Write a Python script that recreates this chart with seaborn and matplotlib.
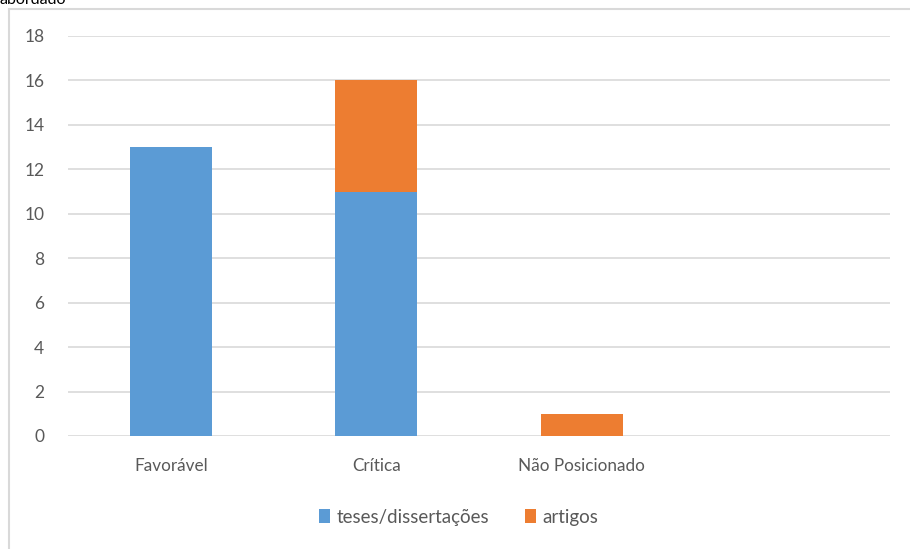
import numpy as np
import pandas as pd
import matplotlib
matplotlib.use('Agg')
import matplotlib.pyplot as plt
import seaborn as sns
from matplotlib.lines import Line2D

# -----------------------

categorias = ['Favorável', 'Crítica', 'Não Posicionado']
teses = [13, 11, 0]
artigos = [0, 5, 1]
yticks = [0, 2, 4, 6, 8, 10, 12, 14, 16, 18]

c_teses = '#5B9BD5'
c_artigos = '#ED7D31'
c_text = '#595959'
c_grid = '#D9D9D9'

# -----------------------

sns.set_style('white')
plt.rcParams['font.family'] = ['Lato', 'DejaVu Sans']

df = pd.DataFrame({'categoria': categorias, 'teses': teses, 'artigos': artigos})

fig = plt.figure(figsize=(9.1, 5.49), dpi=100)
ax = fig.add_axes([68 / 910, 1 - 436 / 549, (890 - 68) / 910, 400 / 549])

sns.barplot(data=df, x='categoria', y='teses', color=c_teses, width=0.4,
	saturation=1, ax=ax, label='teses/dissertações', zorder=3, linewidth=0)
sns.barplot(data=df, x='categoria', y='artigos', bottom=df['teses'],
	color=c_artigos, width=0.4, saturation=1, ax=ax, label='artigos',
	zorder=3, linewidth=0)

ax.set_xlim(-0.5, 3.5)
ax.set_ylim(0, 18)
ax.set_yticks(yticks)
ax.set(xlabel='', ylabel='')
ax.yaxis.grid(True, color=c_grid, lw=1.2, zorder=0)
ax.set_axisbelow(True)
sns.despine(ax=ax, left=True, bottom=True)
ax.tick_params(axis='both', length=0, colors=c_text)
ax.tick_params(axis='x', pad=16, labelsize=12.3)
ax.tick_params(axis='y', pad=17, labelsize=12.5)

ax.legend(loc='center', bbox_to_anchor=(0.504, 1 - 517 / 549),
	bbox_transform=fig.transFigure, ncol=2, frameon=False,
	handlelength=0.6, handleheight=0.75, handletextpad=0.35,
	columnspacing=1.9, fontsize=13.5, labelcolor=c_text)

# chart border (top and left visible)
fig.add_artist(Line2D([8.5 / 910, 8.5 / 910], [0, 1 - 8.5 / 549],
	transform=fig.transFigure, color=c_grid, lw=1.5))
fig.add_artist(Line2D([8.5 / 910, 1], [1 - 8.5 / 549, 1 - 8.5 / 549],
	transform=fig.transFigure, color=c_grid, lw=1.5))

# title cut off at top
fig.text(0.0, 1 - 4 / 549, 'abordado', fontsize=11.5, color='black', va='baseline')

plt.savefig('out.png', dpi=100)
